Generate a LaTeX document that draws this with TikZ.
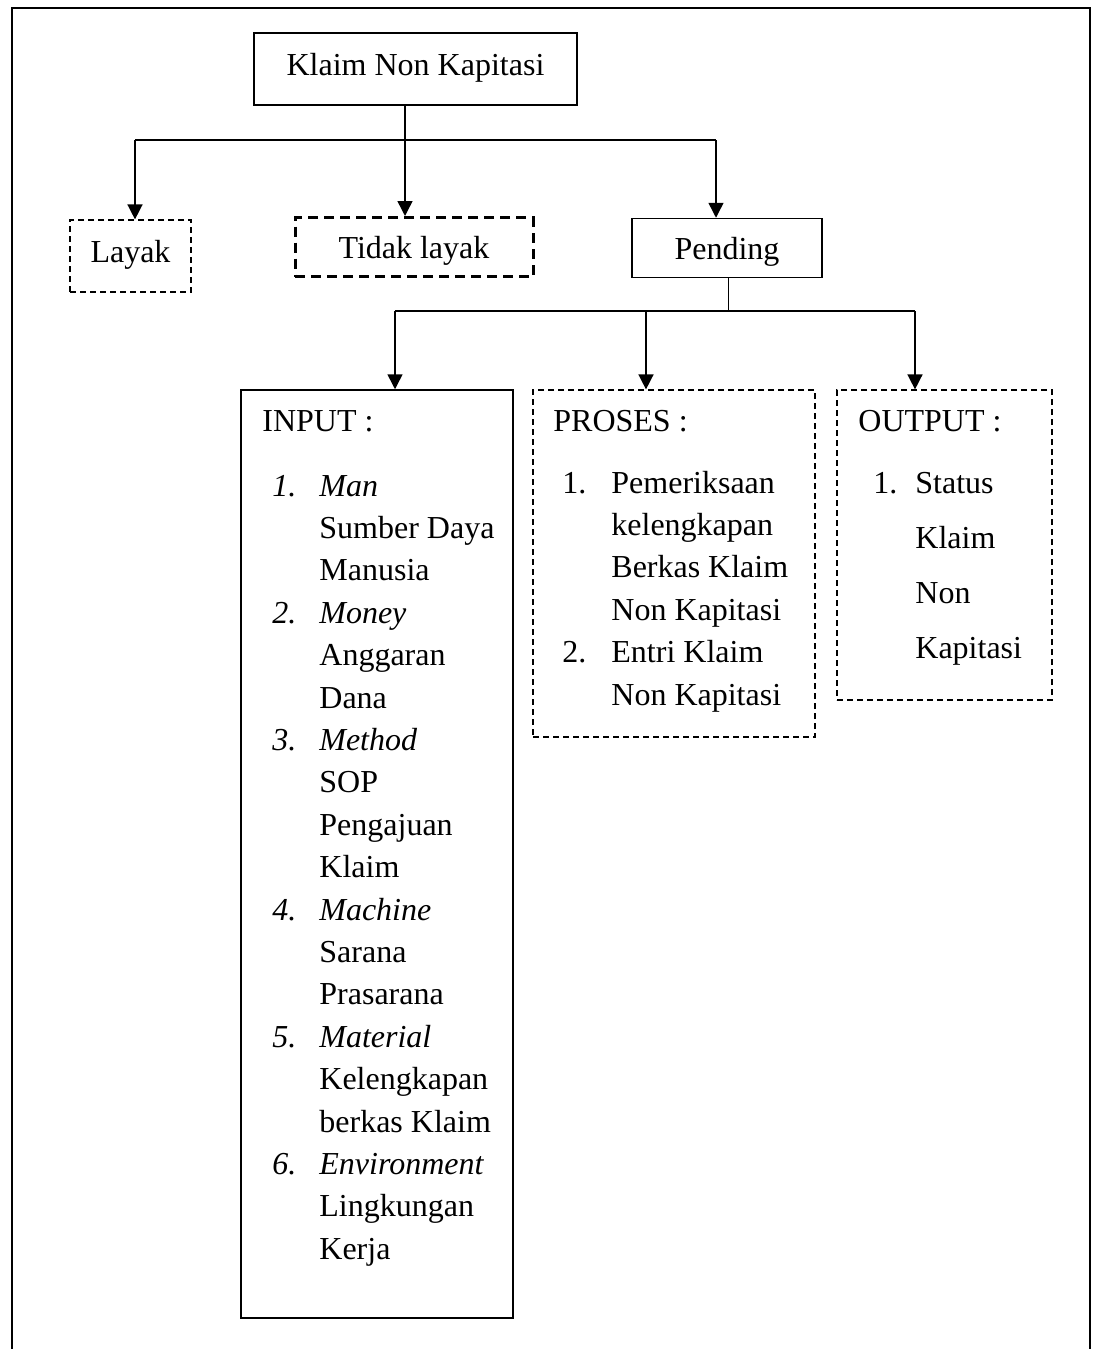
\documentclass[tikz,border=0pt]{standalone}
\usepackage{fontspec}
\setmainfont{Liberation Serif}
\usetikzlibrary{arrows.meta}
\begin{document}
\begin{tikzpicture}[x=0.5pt,y=-0.5pt,
  every node/.style={font=\fontsize{16}{21.2}\selectfont, inner sep=0pt},
  solidbox/.style={draw, line width=0.75pt, rectangle},
  dotbox/.style={draw, line width=0.6pt, dash pattern=on 3pt off 2pt, rectangle},
  thickdash/.style={draw, line width=1.5pt, dash pattern=on 5pt off 3pt, rectangle},
  link/.style={line width=0.75pt},
  arr/.style={link, -{Triangle[length=7.5pt,width=7.5pt]}},
  txt/.style={anchor=base west}
]
\useasboundingbox (0,0) rectangle (1098,1349);
% outer frame (open at the bottom)
\draw[line width=1.1pt] (12,1349) -- (12,8) -- (1090,8) -- (1090,1349);

% first level
\node[solidbox, minimum width=161.5pt, minimum height=36pt, text height=6pt, text depth=0pt] (klaim) at (415.5,69) {Klaim Non Kapitasi};
\node[dotbox, minimum width=60.5pt, minimum height=36pt, text height=6pt, text depth=0pt] (layak) at (130.5,256) {Layak};
\node[thickdash, minimum width=119pt, minimum height=29.5pt, text height=11pt, text depth=0pt] (tidak) at (414,247) {Tidak layak};
\node[solidbox, minimum width=95pt, minimum height=29.5pt, text height=11pt, text depth=0pt] (pending) at (727,248) {Pending};

\coordinate (aL) at (135,140);
\coordinate (aT) at (405,140);
\coordinate (aP) at (716,140);
\draw[link] (klaim.south -| aT) -- (aT);
\draw[link] (aL) -- (aP);
\draw[arr] (aL) -- (aL |- layak.north);
\draw[arr] (aT) -- (aT |- tidak.north);
\draw[arr] (aP) -- (aP |- pending.north);

% second level boxes
\node[solidbox, minimum width=136pt, minimum height=464pt] (input) at (377,854) {};
\node[dotbox, minimum width=141pt, minimum height=173.5pt] (proses) at (674,563.5) {};
\node[dotbox, minimum width=107.5pt, minimum height=155pt] (output) at (944.5,545) {};

\coordinate (bC) at (728.5,311);
\coordinate (bI) at (395,311);
\coordinate (bP) at (646,311);
\coordinate (bO) at (915,311);
\draw[link] (pending.south -| bC) -- (bC);
\draw[link] (bI) -- (bO);
\draw[arr] (bI) -- (bI |- input.north);
\draw[arr] (bP) -- (bP |- proses.north);
\draw[arr] (bO) -- (bO |- output.north);

% texts
\node[txt] (inhead) at (262,431) {INPUT :};
\node[txt] (inlist) at (272,496) {\begin{tabular}[t]{@{}l@{}l@{}}
\makebox[23.5pt][l]{\textit{1.}} & \textit{Man}\\
 & Sumber Daya\\
 & Manusia\\
\textit{2.} & \textit{Money}\\
 & Anggaran\\
 & Dana\\
\textit{3.} & \textit{Method}\\
 & SOP\\
 & Pengajuan\\
 & Klaim\\
\textit{4.} & \textit{Machine}\\
 & Sarana\\
 & Prasarana\\
\textit{5.} & \textit{Material}\\
 & Kelengkapan\\
 & berkas Klaim\\
\textit{6.} & \textit{Environment}\\
 & Lingkungan\\
 & Kerja
\end{tabular}};

\node[txt] (prhead) at (553,431) {PROSES :};
\node[txt] (prlist) at (562,493) {\begin{tabular}[t]{@{}l@{}l@{}}
\makebox[24.5pt][l]{1.} & Pemeriksaan\\
 & kelengkapan\\
 & Berkas Klaim\\
 & Non Kapitasi\\
2. & Entri Klaim\\
 & Non Kapitasi
\end{tabular}};

\node[txt] (outhead) at (858,431) {OUTPUT :};
\node[txt] (outlist) at (873,493) {\def\arraystretch{1.3}\begin{tabular}[t]{@{}l@{}l@{}}
\makebox[21pt][l]{1.} & Status\\
 & Klaim\\
 & Non\\
 & Kapitasi
\end{tabular}};
\end{tikzpicture}
\end{document}
